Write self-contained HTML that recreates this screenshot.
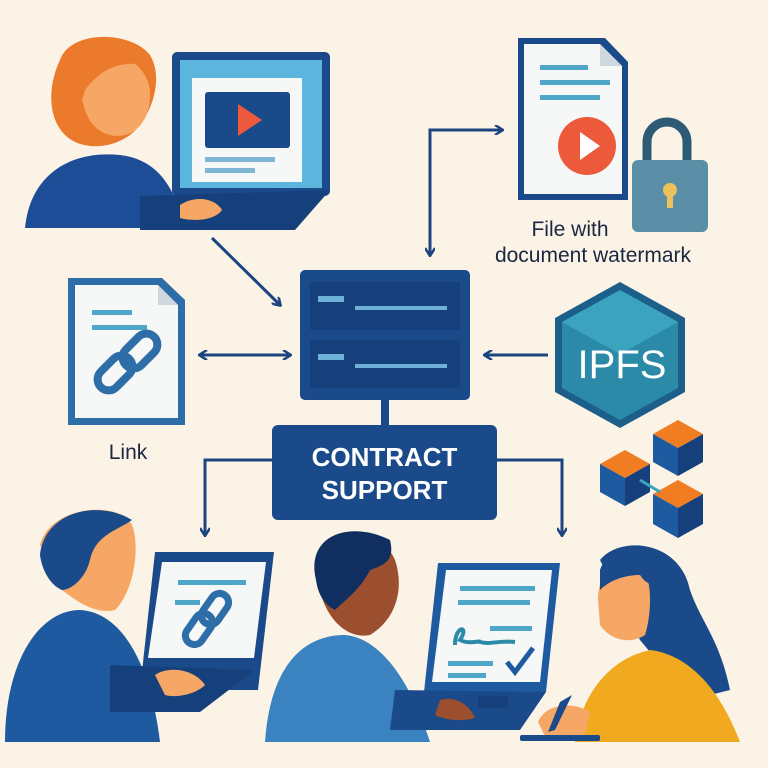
<!DOCTYPE html>
<html><head><meta charset="utf-8"><style>
html,body{margin:0;padding:0;background:#fcf3e7;}
svg{display:block}
text{font-family:"Liberation Sans",sans-serif;}
</style></head><body>
<svg width="768" height="768" viewBox="0 0 768 768" xmlns="http://www.w3.org/2000/svg">
<defs>
<marker id="ah" markerWidth="10" markerHeight="10" refX="8" refY="5" orient="auto" markerUnits="userSpaceOnUse"><path d="M1,0 L9,5 L1,10" fill="none" stroke="#1c4580" stroke-width="2.5"/></marker>
</defs>
<rect width="768" height="768" fill="#fcf3e7"/>

<!-- top-left woman -->
<path d="M60,60 C70,30 130,30 150,55 C165,80 150,120 130,135 C110,150 80,150 65,135 C45,115 50,80 60,60Z" fill="#ec7a2c"/>
<path d="M80,60 C110,45 150,60 150,95 C150,125 130,140 110,135 C90,130 78,110 80,60Z" fill="#f6a765"/>
<path d="M65,60 C80,40 130,35 145,65 C120,60 100,70 85,90 C80,110 70,120 62,110Z" fill="#ec7a2c"/>
<path d="M25,228 C30,175 70,150 120,155 C160,160 175,190 185,228Z" fill="#1d4d96"/>
<rect x="172" y="52" width="158" height="144" rx="5" fill="#1b4a8a"/>
<rect x="180" y="60" width="142" height="128" fill="#5bb5dc"/>
<rect x="192" y="78" width="110" height="104" fill="#f6f7f7"/>
<rect x="205" y="92" width="85" height="56" rx="3" fill="#1b4a8a"/>
<path d="M238,104 L262,120 L238,136Z" fill="#ec5a3b"/>
<rect x="205" y="157" width="70" height="5" fill="#7fb6d4"/>
<rect x="205" y="168" width="50" height="5" fill="#7fb6d4"/>
<path d="M140,196 L330,190 L295,230 L140,230Z" fill="#16407c"/>
<path d="M180,205 C195,195 215,198 222,210 C215,220 195,222 180,218Z" fill="#f6a765"/>

<!-- top arrows -->
<line x1="212" y1="238" x2="280" y2="305" stroke="#1c4580" stroke-width="3" marker-end="url(#ah)"/>
<path d="M500,130 L430,130 L430,255" fill="none" stroke="#1c4580" stroke-width="3" marker-end="url(#ah)"/>
<path d="M442,130 L502,130" fill="none" stroke="#1c4580" stroke-width="3" marker-end="url(#ah)"/>

<!-- document top right -->
<path d="M518,38 L605,38 L628,62 L628,200 L518,200Z" fill="#1b4a8a"/>
<path d="M524,44 L600,44 L622,66 L622,194 L524,194Z" fill="#f6f7f7"/>
<path d="M600,44 L600,66 L622,66Z" fill="#cfd8df"/>
<rect x="540" y="65" width="48" height="5" fill="#4ea6c8"/>
<rect x="540" y="80" width="70" height="5" fill="#4ea6c8"/>
<rect x="540" y="95" width="60" height="5" fill="#4ea6c8"/>
<circle cx="587" cy="146" r="29" fill="#ec5a3b"/>
<path d="M580,132 L600,146 L580,160Z" fill="#fff"/>
<path d="M647,160 L647,142 A20,20 0 0 1 687,142 L687,160" fill="none" stroke="#2d5a74" stroke-width="9"/>
<rect x="632" y="160" width="76" height="72" rx="6" fill="#5b8fa8"/>
<circle cx="670" cy="190" r="7" fill="#f0c05a"/>
<rect x="667" y="192" width="6" height="16" fill="#f0c05a"/>
<text x="570" y="236" font-size="21" text-anchor="middle" fill="#1a2740">File with</text>
<text x="593" y="262" font-size="21" text-anchor="middle" fill="#1a2740">document watermark</text>

<!-- server -->
<rect x="300" y="270" width="170" height="130" rx="5" fill="#1b4a8a"/>
<rect x="310" y="282" width="150" height="48" rx="2" fill="#16407c"/>
<rect x="310" y="340" width="150" height="48" rx="2" fill="#16407c"/>
<rect x="318" y="296" width="26" height="6" fill="#6fb0d8"/>
<rect x="355" y="306" width="92" height="4" fill="#6fb0d8"/>
<rect x="318" y="354" width="26" height="6" fill="#6fb0d8"/>
<rect x="355" y="364" width="92" height="4" fill="#6fb0d8"/>
<rect x="381" y="400" width="8" height="26" fill="#1b4a8a"/>

<!-- contract support -->
<rect x="272" y="425" width="225" height="95" rx="6" fill="#1b4a8a"/>
<text x="384.5" y="466" font-size="26" font-weight="bold" text-anchor="middle" fill="#fff">CONTRACT</text>
<text x="384.5" y="499" font-size="26" font-weight="bold" text-anchor="middle" fill="#fff">SUPPORT</text>
<path d="M272,460 L205,460 L205,535" fill="none" stroke="#1c4580" stroke-width="3" marker-end="url(#ah)"/>
<path d="M497,460 L562,460 L562,535" fill="none" stroke="#1c4580" stroke-width="3" marker-end="url(#ah)"/>

<!-- link doc -->
<path d="M68,278 L162,278 L185,300 L185,425 L68,425Z" fill="#2d6ea8"/>
<path d="M75,285 L158,285 L178,305 L178,418 L75,418Z" fill="#f6f7f7"/>
<path d="M158,285 L158,305 L178,305Z" fill="#cfd8df"/>
<rect x="92" y="310" width="40" height="5" fill="#4ea6c8"/>
<rect x="92" y="325" width="55" height="5" fill="#4ea6c8"/>
<g fill="none" stroke="#2d6ea8" stroke-width="8">
<rect x="95" y="362" width="40" height="22" rx="11" transform="rotate(-45 115 373)"/>
<rect x="120" y="340" width="40" height="22" rx="11" transform="rotate(-45 140 351)"/>
</g>
<text x="128" y="459" font-size="21" text-anchor="middle" fill="#1a2740">Link</text>
<line x1="215" y1="355" x2="290" y2="355" stroke="#1c4580" stroke-width="3" marker-end="url(#ah)"/>
<line x1="280" y1="355" x2="200" y2="355" stroke="#1c4580" stroke-width="3" marker-end="url(#ah)"/>
<line x1="548" y1="355" x2="485" y2="355" stroke="#1c4580" stroke-width="3" marker-end="url(#ah)"/>

<!-- IPFS hex -->
<polygon points="620,282 685,318 685,392 620,428 555,392 555,318" fill="#1b5f8a"/>
<polygon points="620,290 678,322 678,388 620,420 562,388 562,322" fill="#2a8aa8"/>
<polygon points="620,290 678,322 620,354 562,322" fill="#3ba3bd"/>
<text x="622" y="378" font-size="40" text-anchor="middle" fill="#fff">IPFS</text>

<!-- cubes -->
<g>
<polygon points="678,420 703,434 678,448 653,434" fill="#f07d22"/>
<polygon points="653,434 678,448 678,476 653,462" fill="#1d5aa0"/>
<polygon points="678,448 703,434 703,462 678,476" fill="#16407c"/>
<polygon points="625,450 650,464 625,478 600,464" fill="#f07d22"/>
<polygon points="600,464 625,478 625,506 600,492" fill="#1d5aa0"/>
<polygon points="625,478 650,464 650,492 625,506" fill="#16407c"/>
<polygon points="678,480 703,494 678,508 653,494" fill="#f07d22"/>
<polygon points="653,494 678,508 678,538 653,524" fill="#1d5aa0"/>
<polygon points="678,508 703,494 703,524 678,538" fill="#16407c"/>
<line x1="640" y1="480" x2="660" y2="492" stroke="#3ba3bd" stroke-width="3"/>
</g>

<!-- bottom-left man -->
<path d="M40,545 C50,505 120,500 132,525 C140,545 135,590 115,610 C95,615 75,600 62,590Z" fill="#f6a765"/>
<path d="M40,555 C45,510 100,500 132,520 C118,530 95,535 90,560 C85,580 70,590 62,590 C50,585 42,570 40,555Z" fill="#1b4a8a"/>
<path d="M5,742 C5,660 40,610 80,610 C120,612 150,660 160,742Z" fill="#1d5aa0"/>
<path d="M155,552 L274,552 L258,690 L140,690Z" fill="#1b4a8a"/>
<path d="M162,562 L266,562 L254,658 L148,658Z" fill="#f6f7f7"/>
<rect x="178" y="580" width="68" height="5" fill="#4ea6c8"/>
<rect x="175" y="600" width="25" height="5" fill="#4ea6c8"/>
<g fill="none" stroke="#2d6ea8" stroke-width="7">
<rect x="182" y="620" width="34" height="18" rx="9" transform="rotate(-55 199 629)"/>
<rect x="198" y="600" width="34" height="18" rx="9" transform="rotate(-55 215 609)"/>
</g>
<path d="M110,665 L255,670 L200,712 L110,712Z" fill="#16407c"/>
<path d="M155,675 C170,665 195,670 205,685 C195,695 175,698 165,695Z" fill="#f6a765"/>

<!-- bottom-middle man -->
<path d="M320,560 C330,525 380,525 395,560 C405,590 395,620 370,635 C345,640 325,615 320,590Z" fill="#9b4f2e"/>
<path d="M316,580 C305,535 350,520 390,540 C395,560 385,565 370,570 C360,590 345,600 335,610 C325,605 318,595 316,580Z" fill="#102f60"/>
<path d="M265,742 C270,670 300,635 345,635 C380,638 410,680 430,742Z" fill="#3b82c0"/>
<path d="M438,563 L560,563 L546,692 L424,692Z" fill="#1d5aa0"/>
<path d="M446,570 L552,570 L540,682 L432,682Z" fill="#f6f7f7"/>
<rect x="460" y="586" width="75" height="5" fill="#4ea6c8"/>
<rect x="458" y="600" width="72" height="5" fill="#4ea6c8"/>
<rect x="490" y="626" width="42" height="5" fill="#4ea6c8"/>
<path d="M455,645 C455,625 470,625 460,640 C470,645 480,640 480,642 C490,645 500,640 515,642" fill="none" stroke="#2a8aa8" stroke-width="4"/>
<path d="M507,662 L515,672 L533,648" fill="none" stroke="#1d5aa0" stroke-width="5"/>
<rect x="448" y="661" width="45" height="5" fill="#4ea6c8"/>
<rect x="448" y="673" width="38" height="5" fill="#4ea6c8"/>
<path d="M395,690 L546,692 L520,730 L390,730Z" fill="#1b4a8a"/>
<rect x="478" y="696" width="30" height="12" fill="#16407c"/>
<path d="M440,700 C455,695 470,705 475,718 C460,722 445,720 435,715Z" fill="#9b4f2e"/>

<!-- right woman -->
<path d="M600,560 C620,535 680,540 690,590 C700,620 720,640 730,690 L690,700 L640,640 Z" fill="#1b4a8a"/>
<path d="M598,600 C598,570 615,560 640,565 C655,580 650,620 645,635 C630,645 610,640 600,625Z" fill="#f6a765"/>
<path d="M600,570 C610,540 660,545 675,575 C660,585 650,590 640,575 C625,575 610,580 600,590Z" fill="#1b4a8a"/>
<path d="M575,742 C580,700 605,660 650,650 C690,655 720,690 740,742Z" fill="#f1a920"/>
<path d="M538,722 C545,705 570,700 590,712 L585,735 L545,736Z" fill="#f6a765"/>
<path d="M560,702 L572,695 L555,730 L548,732Z" fill="#1b4a8a"/>
<rect x="520" y="735" width="80" height="6" rx="2" fill="#1b4a8a"/>
</svg>
</body></html>
